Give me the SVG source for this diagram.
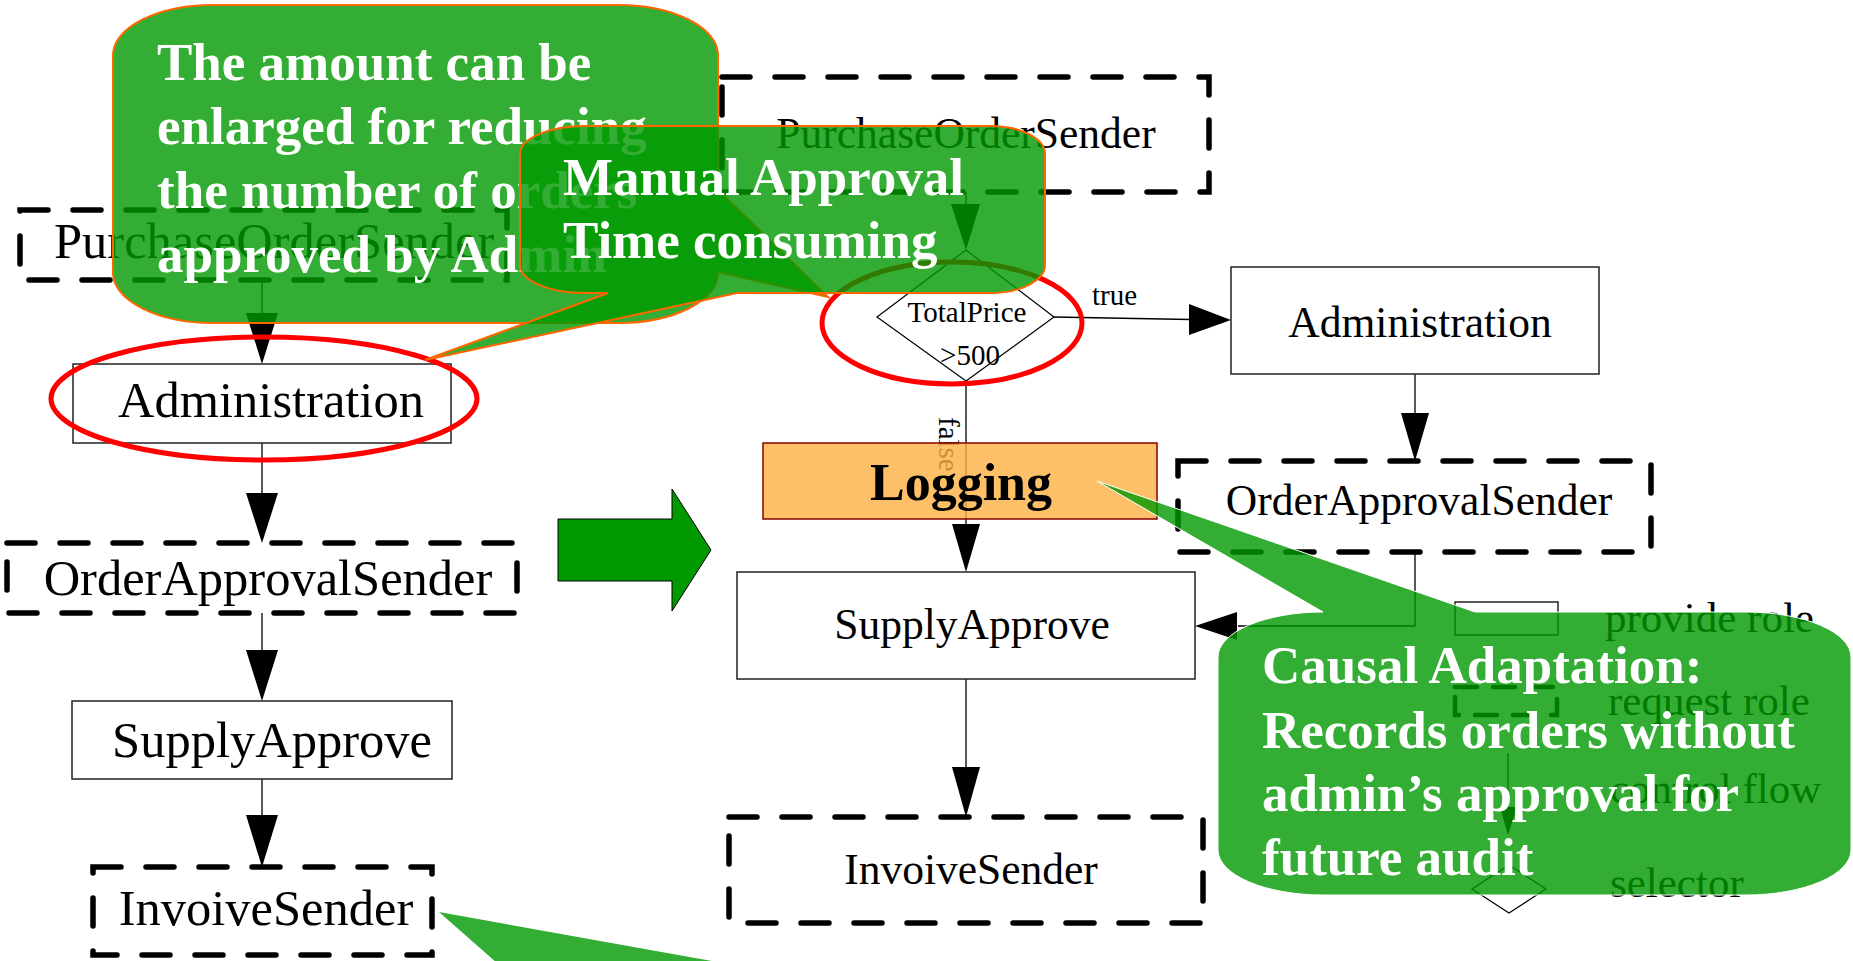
<svg xmlns="http://www.w3.org/2000/svg" width="1853" height="961" viewBox="0 0 1853 961">
<style>
.bg{fill:#fff}
.box{fill:#fff;stroke:#222;stroke-width:1.5}
.dbox{fill:none;stroke:#000;stroke-width:5.5;stroke-dasharray:28 25;stroke-linecap:round}
.t{font-family:"Liberation Serif","Times New Roman",serif;fill:#000}
.L{font-size:50.5px}
.R{font-size:43.5px}
.S{font-size:29px}
.G{font-size:43px}
.edge{stroke:#000;stroke-width:1.3;fill:none}
.head{fill:#000}
.ring{fill:none;stroke:#f00;stroke-width:5}
.callout{fill:#009900;fill-opacity:0.8}
.co{stroke:#ff6600;stroke-width:2}
.cw{stroke:#fff;stroke-width:1}
.note{font-family:"Liberation Serif","Times New Roman",serif;font-weight:bold;font-size:53px;fill:#fff}
</style>
<rect class="bg" x="0" y="0" width="1853" height="961"/>

<g id="connectors">
  <line class="edge" x1="262" y1="280" x2="262" y2="314"/>
  <polygon class="head" points="246,313 278,313 262,364"/>
  <line class="edge" x1="262" y1="443" x2="262" y2="494"/>
  <polygon class="head" points="246,493 278,493 262,543"/>
  <line class="edge" x1="262" y1="613" x2="262" y2="651"/>
  <polygon class="head" points="246,650 278,650 262,701"/>
  <line class="edge" x1="262" y1="779" x2="262" y2="816"/>
  <polygon class="head" points="246,815 278,815 262,867"/>

  <line class="edge" x1="966" y1="192" x2="966" y2="205"/>
  <polygon class="head" points="951,204 980,204 966,250"/>
  <line class="edge" x1="1054" y1="317" x2="1190" y2="319.5"/>
  <polygon class="head" points="1189,304 1189,335 1231,320"/>
  <text class="t S" x="1092" y="305">true</text>
  <line class="edge" x1="966" y1="381" x2="966" y2="525"/>
  <polygon class="head" points="952,524 980,524 966,572"/>
  <text class="t S" transform="translate(939,417) rotate(90)">false</text>
  <line class="edge" x1="1415" y1="374" x2="1415" y2="414"/>
  <polygon class="head" points="1401,413 1429,413 1415,461"/>
  <polyline class="edge" points="1415,553 1415,626 1238,626"/>
  <polygon class="head" points="1237,612 1237,640 1195,626"/>
  <line class="edge" x1="966" y1="679" x2="966" y2="768"/>
  <polygon class="head" points="952,767 980,767 966,817"/>
</g>

<g id="pos-left"><rect class="dbox" x="20" y="210" width="487" height="70"/><text class="t L" x="54" y="258">PurchaseOrderSender</text></g>
<g id="admin-left"><rect class="box" x="73" y="364" width="378" height="79"/><text class="t L" x="271" y="417" text-anchor="middle">Administration</text></g>
<g id="oas-left"><rect class="dbox" x="7" y="543" width="510" height="70"/><text class="t L" x="268" y="595" text-anchor="middle">OrderApprovalSender</text></g>
<g id="sa-left"><rect class="box" x="72" y="701" width="380" height="78"/><text class="t L" x="272" y="757" text-anchor="middle">SupplyApprove</text></g>
<g id="is-left"><rect class="dbox" x="93" y="867" width="339" height="88"/><text class="t L" x="266" y="925" text-anchor="middle">InvoiveSender</text></g>

<g id="transform-arrow"><polygon points="558,519 672,519 672,489 711,550 672,611 672,581 558,581" fill="#009900" stroke="#000" stroke-width="1"/></g>

<g id="pos-right"><rect class="dbox" x="722" y="77" width="487" height="115"/><text class="t R" x="966" y="148" text-anchor="middle">PurchaseOrderSender</text></g>
<g id="selector"><polygon points="966,250 1054,317 966,381 877,317" fill="#fff" stroke="#000" stroke-width="1.2"/><text class="t S" x="967" y="322" text-anchor="middle">TotalPrice</text><text class="t S" x="970" y="365" text-anchor="middle">&gt;500</text></g>
<g id="admin-right"><rect class="box" x="1231" y="267" width="368" height="107"/><text class="t R" x="1420" y="337" text-anchor="middle">Administration</text></g>
<g id="oas-right"><rect class="dbox" x="1178" y="461" width="473" height="91"/><text class="t R" x="1419" y="515" text-anchor="middle">OrderApprovalSender</text></g>
<g id="logging"><rect x="763" y="443" width="394" height="76" fill="#fcb042" fill-opacity="0.8" stroke="#8b0000" stroke-width="1.5"/><text class="t" x="961" y="500" text-anchor="middle" font-size="52" font-weight="bold">Logging</text></g>
<g id="sa-right"><rect class="box" x="737" y="572" width="458" height="107"/><text class="t R" x="972" y="639" text-anchor="middle">SupplyApprove</text></g>
<g id="is-right"><rect class="dbox" x="729" y="817" width="474" height="106"/><text class="t R" x="971" y="884" text-anchor="middle">InvoiveSender</text></g>

<g id="legend">
  <rect x="1455" y="602" width="103" height="33" fill="none" stroke="#222" stroke-width="1.5"/>
  <text class="t G" x="1605" y="632">provide role</text>
  <rect x="1455" y="687" width="102" height="28" fill="none" stroke="#000" stroke-width="4.5" stroke-dasharray="22 16" stroke-linecap="round"/>
  <text class="t G" x="1608" y="715">request role</text>
  <line class="edge" x1="1508" y1="753" x2="1508" y2="808"/>
  <polygon class="head" points="1500,807 1517,807 1508,835"/>
  <text class="t G" x="1610" y="803">control flow</text>
  <polygon points="1509,865 1546,889 1509,913 1472,889" fill="#fff" stroke="#000" stroke-width="1.2"/>
  <text class="t G" x="1610" y="897">selector</text>
</g>

<g id="ring-left"><ellipse class="ring" cx="264" cy="398.5" rx="213" ry="61.5"/></g>
<g id="ring-right"><ellipse class="ring" cx="952" cy="323" rx="130" ry="61"/></g>

<g id="callout-invoice"><polygon class="callout" points="439,912 929,1000 539,1000"/></g>

<g id="callout-causal">
  <path class="callout cw" d="M1323,612 L1097,481 L1475,612 H1746 A105 45 0 0 1 1851,657 V850 A105 45 0 0 1 1746,895 H1323 A105 45 0 0 1 1218,850 V657 A105 45 0 0 1 1323,612 Z"/>
  <text class="note" x="1262" y="683">Causal Adaptation:</text>
  <text class="note" x="1262" y="748">Records orders without</text>
  <text class="note" x="1262" y="811">admin’s approval for</text>
  <text class="note" x="1262" y="875">future audit</text>
</g>

<g id="callout-amount">
  <path class="callout co" d="M213,5 H618 A100 50 0 0 1 718,55 V190 L828,297 L718,272 A100 50 0 0 1 618,323 H213 A100 50 0 0 1 113,273 V55 A100 50 0 0 1 213,5 Z"/>
  <text class="note" x="157" y="80">The amount can be</text>
  <text class="note" x="157" y="144">enlarged for reducing</text>
  <text class="note" x="157" y="208">the number of orders</text>
  <text class="note" x="157" y="272">approved by Admin</text>
</g>

<g id="callout-manual">
  <path class="callout co" d="M585,126 H990 A55 28 0 0 1 1045,154 V265 A55 28 0 0 1 990,293 H737 L425,360 L608,293 H585 A65 28 0 0 1 520,265 V154 A65 28 0 0 1 585,126 Z"/>
  <text class="note" x="563" y="195">Manual Approval</text>
  <text class="note" x="563" y="258">Time consuming</text>
</g>
</svg>
